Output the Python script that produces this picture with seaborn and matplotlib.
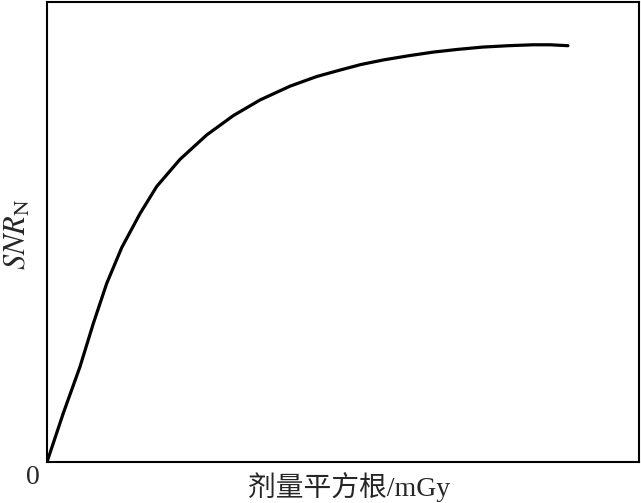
import numpy as np
import pandas as pd
import matplotlib
matplotlib.use("Agg")
import matplotlib.pyplot as plt
import seaborn as sns

# curve (arbitrary units, axes 0..10)
dose_sqrt = [0.0, 0.275, 0.557, 0.782, 1.008, 1.262, 1.571, 1.853, 2.247,
             2.698, 3.147, 3.598, 4.105, 4.556, 4.949, 5.30, 5.68, 6.10,
             6.52, 6.94, 7.36, 7.79, 8.21, 8.50, 8.80]
snr_n = [0.0, 1.06, 2.07, 3.01, 3.88, 4.66, 5.40, 5.99, 6.58,
         7.11, 7.53, 7.87, 8.17, 8.38, 8.52, 8.64, 8.74, 8.83,
         8.91, 8.97, 9.02, 9.05, 9.07, 9.07, 9.05]

x_label = "剂量平方根/mGy"
y_label = r"$SNR_{\mathrm{N}}$"
origin_label = "0"

sns.set_theme(style="white")
plt.rcParams["font.family"] = ["Liberation Serif", "Noto Sans CJK SC"]
plt.rcParams["mathtext.fontset"] = "stix"

df = pd.DataFrame({"x": dose_sqrt, "y": snr_n})

fig = plt.figure(figsize=(6.41, 5.03), dpi=100)
ax = fig.add_axes([47 / 641, 1 - 462 / 503, 592 / 641, 460 / 503])
sns.lineplot(data=df, x="x", y="y", color="black", linewidth=2.3, ax=ax)
ax.lines[0].set_solid_joinstyle("round")

ax.set_xlim(0, 10)
ax.set_ylim(0, 10)
ax.set_xticks([])
ax.set_yticks([])
ax.set_xlabel("")
ax.set_ylabel("")
for sp in ax.spines.values():
    sp.set_color("black")
    sp.set_linewidth(1.5)

fig.text(349 / 641, 1 - 487 / 503, x_label, ha="center", va="center", fontsize=20)
fig.text(18 / 641, 1 - 234 / 503, y_label, ha="center", va="center",
         rotation=90, fontsize=22)
fig.text(33 / 641, 1 - 477 / 503, origin_label, ha="center", va="center", fontsize=20)

fig.savefig("out.png", dpi=100)
